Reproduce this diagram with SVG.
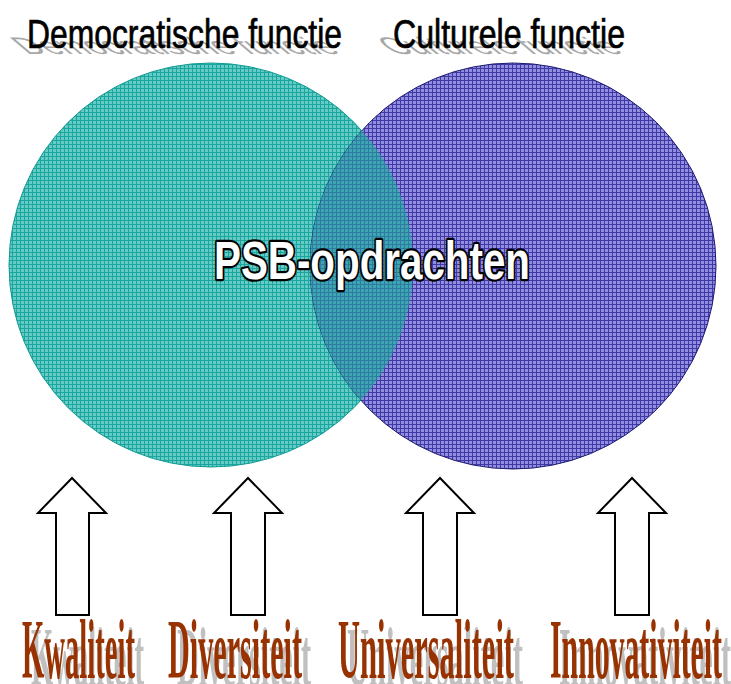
<svg xmlns="http://www.w3.org/2000/svg" width="731" height="684" viewBox="0 0 731 684">
  <defs>
    <!-- fine grid fills for the two sets -->
    <pattern id="gridTeal" width="4" height="4" patternUnits="userSpaceOnUse">
      <rect width="4" height="4" fill="#66cbc4"/>
      <rect width="4" height="1" fill="#18a69e"/>
      <rect width="1" height="4" fill="#18a69e"/>
    </pattern>
    <pattern id="gridBlue" width="4" height="4" patternUnits="userSpaceOnUse">
      <rect width="4" height="4" fill="#908edd"/>
      <rect width="4" height="1" fill="#4038a8"/>
      <rect width="1" height="4" fill="#4038a8"/>
    </pattern>
    <pattern id="gridMix" width="4" height="4" patternUnits="userSpaceOnUse">
      <rect width="4" height="4" fill="#3ea6b2"/>
      <rect width="4" height="1" fill="#2e7aa0"/>
      <rect width="1" height="4" fill="#2e7aa0"/>
    </pattern>
    <clipPath id="clipRight">
      <circle cx="513" cy="266" r="203"/>
    </clipPath>
    <style>
      .title { font-family: "Liberation Sans", Arial, sans-serif; font-size: 40px; fill: #000; stroke: #000; stroke-width: 0.7px; }
      .titleShadow { font-family: "Liberation Sans", Arial, sans-serif; font-size: 40px; fill: #a8a8a8; }
      .center { font-family: "Liberation Sans", Arial, sans-serif; font-size: 54px; font-weight: bold; fill: #fff; stroke: #000; stroke-width: 4.5px; paint-order: stroke; stroke-linejoin: round; }
      .value { font-family: "Liberation Serif", "Times New Roman", serif; font-size: 84px; font-weight: bold; fill: #983200; }
      .valueShadow { font-family: "Liberation Serif", "Times New Roman", serif; font-size: 84px; font-weight: bold; fill: #c0c0c0; }
      .arrow { fill: #fff; stroke: #000; stroke-width: 2; stroke-linejoin: miter; }
    </style>
  </defs>

  <rect width="731" height="684" fill="#fff"/>

  <!-- Venn circles -->
  <g id="democratisch">
    <circle cx="211" cy="265" r="202" fill="url(#gridTeal)" stroke="#0f9a93" stroke-width="1"/>
  </g>
  <g id="cultureel">
    <circle cx="513" cy="266" r="203" fill="url(#gridBlue)" stroke="#1e1a70" stroke-width="1"/>
  </g>
  <g id="overlap">
    <circle cx="211" cy="265" r="202" fill="url(#gridMix)" clip-path="url(#clipRight)"/>
  </g>

  <!-- Circle titles with perspective shadows -->
  <g id="title-democratisch">
    <text class="titleShadow" transform="translate(0,54) skewX(50) scale(1,0.6)" x="27" y="0" textLength="315" lengthAdjust="spacingAndGlyphs">Democratische functie</text>
    <text class="title" x="27" y="48" textLength="315" lengthAdjust="spacingAndGlyphs">Democratische functie</text>
  </g>
  <g id="title-cultureel">
    <text class="titleShadow" transform="translate(0,54) skewX(50) scale(1,0.6)" x="393" y="0" textLength="232" lengthAdjust="spacingAndGlyphs">Culturele functie</text>
    <text class="title" x="393" y="48" textLength="232" lengthAdjust="spacingAndGlyphs">Culturele functie</text>
  </g>

  <!-- Centre label -->
  <g id="psb">
    <text class="center" x="214" y="279" textLength="316" lengthAdjust="spacingAndGlyphs">PSB-opdrachten</text>
  </g>

  <!-- Up arrows -->
  <g id="connectors">
    <path class="arrow" d="M72,478 L106,513 L89,513 L89,615 L56,615 L56,513 L38,513 Z"/>
    <path class="arrow" d="M248,478 L282,513 L265,513 L265,615 L231,615 L231,513 L214,513 Z"/>
    <path class="arrow" d="M440,478 L474,513 L457,513 L457,615 L423,615 L423,513 L406,513 Z"/>
    <path class="arrow" d="M632,478 L666,513 L649,513 L649,615 L615,615 L615,513 L598,513 Z"/>
  </g>

  <!-- Values -->
  <g id="kwaliteit">
    <text class="valueShadow" transform="translate(9,8)" x="22" y="678" textLength="113" lengthAdjust="spacingAndGlyphs">Kwaliteit</text>
    <text class="value" x="22" y="678" textLength="113" lengthAdjust="spacingAndGlyphs">Kwaliteit</text>
  </g>
  <g id="diversiteit">
    <text class="valueShadow" transform="translate(9,8)" x="168" y="678" textLength="134" lengthAdjust="spacingAndGlyphs">Diversiteit</text>
    <text class="value" x="168" y="678" textLength="134" lengthAdjust="spacingAndGlyphs">Diversiteit</text>
  </g>
  <g id="universaliteit">
    <text class="valueShadow" transform="translate(9,8)" x="338" y="678" textLength="176" lengthAdjust="spacingAndGlyphs">Universaliteit</text>
    <text class="value" x="338" y="678" textLength="176" lengthAdjust="spacingAndGlyphs">Universaliteit</text>
  </g>
  <g id="innovativiteit">
    <text class="valueShadow" transform="translate(9,8)" x="550" y="678" textLength="172" lengthAdjust="spacingAndGlyphs">Innovativiteit</text>
    <text class="value" x="550" y="678" textLength="172" lengthAdjust="spacingAndGlyphs">Innovativiteit</text>
  </g>
</svg>
